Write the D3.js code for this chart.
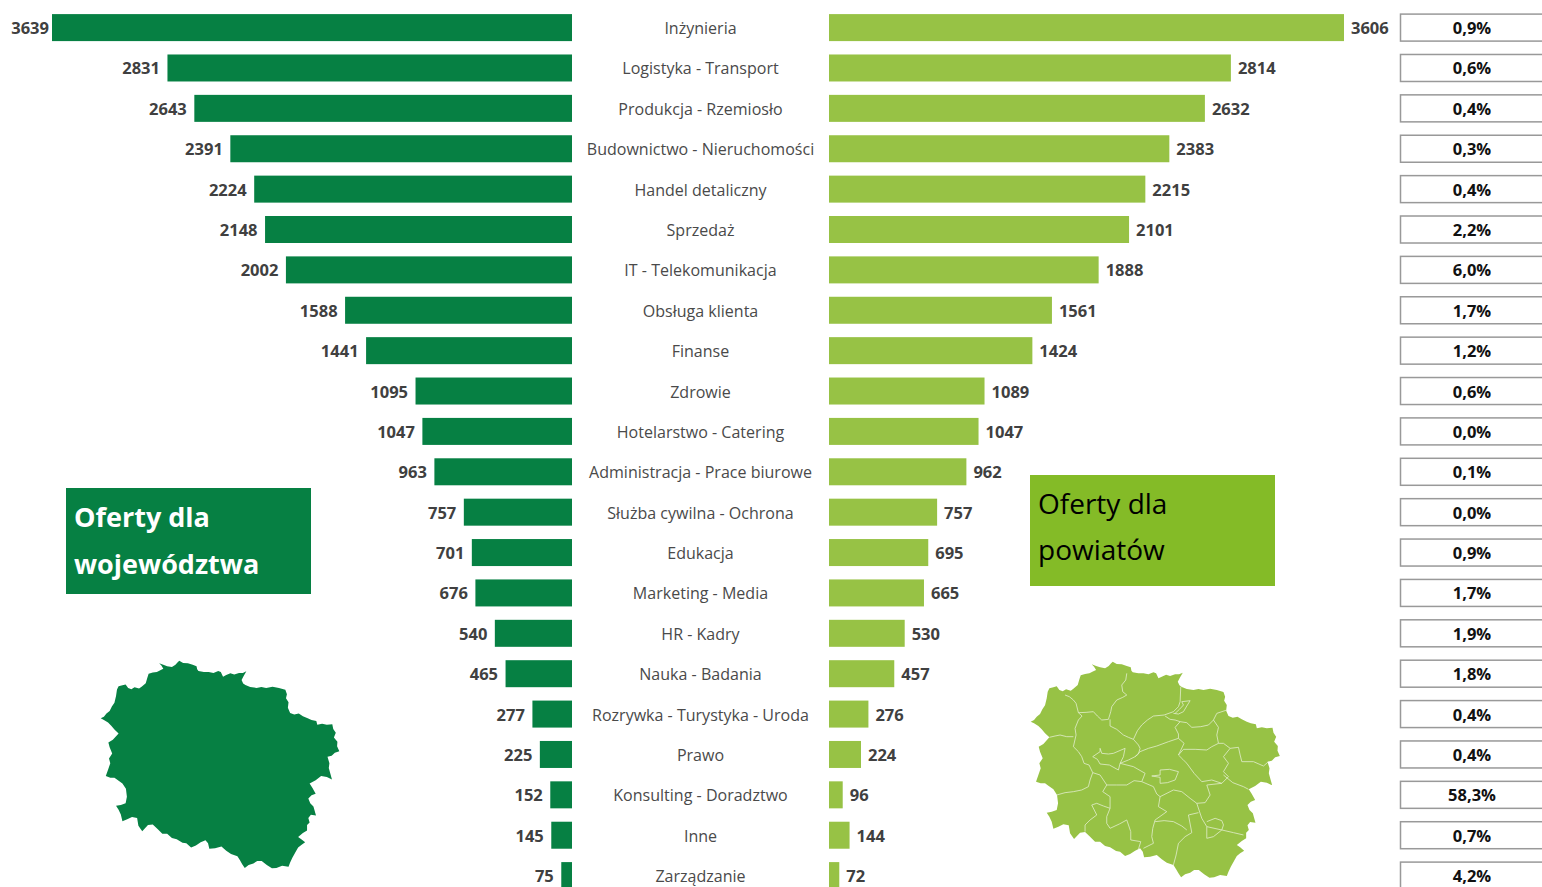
<!DOCTYPE html>
<html lang="pl"><head><meta charset="utf-8">
<script src="https://cdn.jsdelivr.net/npm/d3@7/dist/d3.min.js"></script>
<style>html,body{margin:0;padding:0;background:#fff;overflow:hidden}svg{display:block}text{font-family:"Open Sans",sans-serif}</style>
</head><body><svg id="c" width="1542" height="887"></svg>
<script>
const categories=["Inżynieria","Logistyka - Transport","Produkcja - Rzemiosło","Budownictwo - Nieruchomości","Handel detaliczny","Sprzedaż","IT - Telekomunikacja","Obsługa klienta","Finanse","Zdrowie","Hotelarstwo - Catering","Administracja - Prace biurowe","Służba cywilna - Ochrona","Edukacja","Marketing - Media","HR - Kadry","Nauka - Badania","Rozrywka - Turystyka - Uroda","Prawo","Konsulting - Doradztwo","Inne","Zarządzanie"];
const voivodeship=[3639,2831,2643,2391,2224,2148,2002,1588,1441,1095,1047,963,757,701,676,540,465,277,225,152,145,75];
const counties=[3606,2814,2632,2383,2215,2101,1888,1561,1424,1089,1047,962,757,695,665,530,457,276,224,96,144,72];
const shares=["0,9%","0,6%","0,4%","0,3%","0,4%","2,2%","6,0%","1,7%","1,2%","0,6%","0,0%","0,1%","0,0%","0,9%","1,7%","1,9%","1,8%","0,4%","0,4%","58,3%","0,7%","4,2%"];
const outline=[[62,245],[72,240],[80,230],[90,222],[97,208],[105,196],[110,175],[113,155],[118,145],[130,142],[140,139],[148,150],[158,154],[168,148],[182,152],[190,146],[203,135],[208,118],[212,106],[225,102],[238,100],[250,94],[258,90],[252,80],[245,73],[258,78],[270,82],[285,85],[296,78],[303,70],[308,65],[320,72],[335,73],[350,78],[362,82],[364,92],[368,97],[385,100],[400,100],[415,103],[430,97],[438,100],[445,115],[455,110],[468,104],[480,108],[495,103],[507,103],[518,98],[510,112],[503,125],[508,136],[515,141],[530,147],[550,150],[565,147],[580,150],[600,146],[620,150],[640,156],[645,170],[642,182],[650,195],[648,212],[655,228],[668,233],[682,230],[695,238],[710,245],[722,250],[737,253],[740,265],[755,262],[770,265],[787,263],[790,278],[798,290],[792,305],[803,318],[802,332],[809,348],[795,352],[785,362],[772,365],[778,385],[776,400],[786,436],[770,428],[752,425],[735,438],[716,448],[725,462],[735,480],[722,485],[712,495],[718,510],[728,520],[736,548],[720,546],[712,556],[716,570],[708,578],[708,595],[695,603],[680,615],[690,622],[702,632],[690,640],[680,648],[672,662],[662,680],[655,695],[650,708],[630,705],[612,712],[598,713],[582,703],[566,690],[552,690],[540,698],[525,703],[513,712],[505,700],[498,688],[490,675],[470,668],[455,658],[440,645],[420,650],[402,652],[398,635],[390,625],[375,632],[360,642],[345,648],[330,635],[318,633],[300,622],[285,618],[270,605],[255,605],[240,590],[225,576],[210,578],[192,597],[180,580],[176,556],[160,553],[145,560],[130,566],[125,545],[118,530],[110,518],[125,515],[140,510],[144,490],[141,465],[130,448],[115,437],[105,430],[92,430],[78,425],[85,405],[92,385],[88,370],[98,355],[90,335],[86,320],[100,312],[118,292],[105,280],[95,268],[85,258],[72,250]];
const borders=[
[[165,165],[178,170],[190,180],[198,190],[205,218],[228,217],[250,215],[262,228],[275,240],[295,238],[302,215],[305,200],[320,180],[338,172],[350,165],[338,155],[335,135],[347,120],[350,100]],
[[205,218],[216,228],[205,240],[195,265],[198,285],[190,320],[205,335],[215,350],[222,370],[237,375],[248,398]],
[[118,292],[135,288],[150,285],[170,290],[190,290]],
[[300,238],[300,258],[320,268],[340,285],[355,292],[370,298],[385,315],[390,325],[385,342],[375,350],[355,360],[330,370]],
[[370,298],[382,272],[395,255],[412,240],[430,228],[462,225],[490,215],[505,200],[510,185],[512,140]],
[[495,220],[508,208],[520,195],[515,185],[540,182],[530,198],[520,215],[505,222],[490,220]],
[[465,228],[480,238],[495,240],[510,245],[495,262],[505,282],[505,295],[475,305],[440,318],[415,325],[390,335],[375,350]],
[[510,245],[530,248],[545,262],[572,260],[595,255],[610,240],[625,262],[620,285],[625,310],[605,320],[590,330],[555,328],[520,328],[505,345]],
[[610,240],[620,220],[650,210]],
[[505,295],[522,310],[505,345],[518,358],[530,370],[552,400],[575,425],[605,420],[635,430],[655,410],[640,395],[655,370],[640,350],[660,325],[640,310],[625,310]],
[[660,325],[685,322],[690,345],[695,365],[730,365],[760,378],[775,365]],
[[640,405],[668,428],[700,440],[715,448]],
[[270,325],[275,340],[295,342],[310,340],[345,325],[340,350],[330,370],[325,390],[298,375],[270,372],[262,358],[248,350],[270,335],[270,325]],
[[330,370],[370,380],[405,400],[395,425],[372,422],[350,435],[320,435],[290,435],[270,405],[248,398],[240,420],[235,440],[215,450],[190,455],[165,458],[140,465]],
[[425,408],[450,405],[450,390],[478,388],[505,395],[495,420],[472,428],[450,430],[450,412],[425,408]],
[[395,425],[430,440],[440,462],[450,470],[490,450],[515,455],[540,475],[560,490],[585,488],[600,465],[590,435],[635,430]],
[[450,470],[445,500],[470,515],[435,540],[428,565],[425,590],[430,610],[400,625]],
[[560,490],[575,535],[590,560],[635,570],[670,578],[700,585]],
[[565,518],[535,525],[545,578],[525,590],[505,610],[498,645],[490,675]],
[[435,545],[462,542],[490,545],[515,558],[530,570]],
[[590,545],[615,535],[635,542],[640,555],[635,570],[610,590],[590,595],[590,560]],
[[290,435],[278,455],[300,470],[300,505],[290,530],[290,550],[300,565],[328,552],[350,540],[362,575],[362,600],[392,605],[385,628]],
[[300,505],[280,498],[260,490],[245,495],[260,525],[240,540],[225,555],[225,575]]];
const DARK="#068043",LIGHT="#97c245",BOX="#84bb27";
const svg=d3.select("#c");
const y=d3.scalePoint().domain(categories).range([27.6,875.6]);
const bh=27;
const xL=d3.scaleLinear().domain([0,3639]).range([572,52]);
const xR=d3.scaleLinear().domain([0,3606]).range([829,1344]);
const rows=categories.map((c,i)=>({c,v:voivodeship[i],w:counties[i],s:shares[i]}));
svg.selectAll(".bl").data(rows).join("rect").attr("x",d=>xL(d.v)).attr("y",d=>y(d.c)-bh/2).attr("width",d=>xL(0)-xL(d.v)).attr("height",bh).attr("fill",DARK);
svg.selectAll(".br").data(rows).join("rect").attr("x",xR(0)).attr("y",d=>y(d.c)-bh/2).attr("width",d=>xR(d.w)-xR(0)).attr("height",bh).attr("fill",LIGHT);
const num={"font-size":"16.5px","font-weight":700,"fill":"#404040"};
function style(s,o){for(const k in o)s.attr(k,o[k]);return s}
style(svg.selectAll(".tl").data(rows).join("text").attr("x",d=>Math.max(xL(d.v)-7.5,49)).attr("y",d=>y(d.c)+6.5).attr("text-anchor","end").text(d=>d.v),num);
style(svg.selectAll(".tr").data(rows).join("text").attr("x",d=>xR(d.w)+7).attr("y",d=>y(d.c)+6.5).text(d=>d.w),num);
svg.selectAll(".cat").data(rows).join("text").attr("x",700.5).attr("y",d=>y(d.c)+6.5).attr("text-anchor","middle").attr("font-size","16.05px").attr("fill","#4a4a4a").text(d=>d.c);
svg.selectAll(".box").data(rows).join("rect").attr("x",1400.5).attr("y",d=>y(d.c)-bh/2).attr("width",160).attr("height",bh).attr("fill","#fff").attr("stroke","#999").attr("stroke-width",1.5);
svg.selectAll(".pct").data(rows).join("text").attr("x",1472).attr("y",d=>y(d.c)+6.5).attr("text-anchor","middle").attr("font-size","16.5px").attr("font-weight",700).attr("fill","#111").text(d=>d.s);
svg.append("rect").attr("x",66).attr("y",488).attr("width",245).attr("height",106).attr("fill",DARK);
svg.append("rect").attr("x",1030).attr("y",475).attr("width",245).attr("height",111).attr("fill",BOX);
[["Oferty dla",74,527],["województwa",74,574]].forEach(t=>svg.append("text").attr("x",t[1]).attr("y",t[2]).attr("font-size","27px").attr("font-weight",700).attr("fill","#fff").text(t[0]));
[["Oferty dla",1038,514],["powiatów",1038,560]].forEach(t=>svg.append("text").attr("x",t[1]).attr("y",t[2]).attr("font-size","28px").attr("fill","#000").text(t[0]));
function map(x0,x1,y0,y1,fill,withBorders){
 const sx=d3.scaleLinear().domain([62,808]).range([x0,x1]),sy=d3.scaleLinear().domain([65,712]).range([y0,y1]);
 const line=d3.line().x(d=>sx(d[0])).y(d=>sy(d[1]));
 svg.append("path").attr("d",line(outline)+"Z").attr("fill",fill);
 if(withBorders) svg.append("g").selectAll("path").data(borders).join("path").attr("d",line).attr("fill","none").attr("stroke","#e2eecd").attr("stroke-width",0.8);
}
map(100.7,339,660.7,868,DARK,false);
map(1030.7,1279.5,661.7,877.3,LIGHT,true);
</script></body></html>
